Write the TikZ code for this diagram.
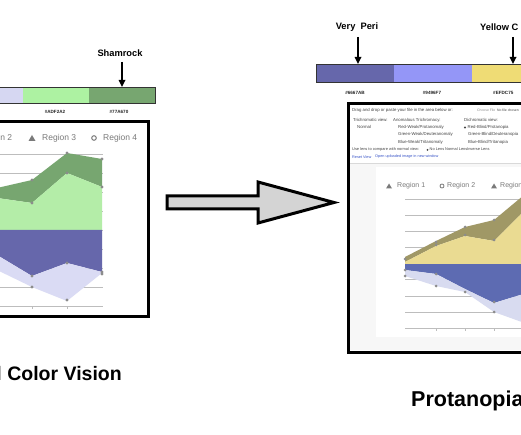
\documentclass[tikz,border=0pt]{standalone}
\usepackage{fontspec}
\setmainfont{Liberation Sans}
\usetikzlibrary{arrows.meta}
\definecolor{lavbar}{HTML}{D6D7F2}
\definecolor{ltgreen}{HTML}{ADF2A2}
\definecolor{shamrock}{HTML}{77A670}
\definecolor{veryperi}{HTML}{6667AB}
\definecolor{peri2}{HTML}{9496F7}
\definecolor{yellowc}{HTML}{EFDC75}
\definecolor{lavchart}{HTML}{DADBF4}
\definecolor{greenchart}{HTML}{B4EDA8}
\definecolor{olive}{HTML}{A09866}
\definecolor{yelchart}{HTML}{EADB92}
\definecolor{bluechart}{HTML}{5D6BB2}
\definecolor{lavchart2}{HTML}{D8DBF0}
\definecolor{gridc}{HTML}{BDBDBD}
\definecolor{uitext}{HTML}{444444}
\definecolor{uilink}{HTML}{3A55C8}
\definecolor{legc}{HTML}{7A7A7A}
\definecolor{arrowfill}{HTML}{D4D4D4}
\tikzset{
  namelbl/.style={font=\bfseries\fontsize{9.3}{10}\selectfont, inner sep=0pt},
  hexlbl/.style={font=\bfseries\fontsize{4.6}{5}\selectfont, inner sep=0pt, text=black!85},
  lblarrow/.style={-{Triangle[length=7pt,width=6.5pt]}, line width=1.6pt},
  barseg/.style={draw=black!80, line width=0.7pt},
  gridln/.style={draw=gridc, line width=0.8pt},
  panel/.style={draw=black, line width=3pt},
  legtxt/.style={font=\fontsize{8.5}{9}\selectfont, text=legc, inner sep=0pt, anchor=west},
  legtxtr/.style={font=\fontsize{7}{8}\selectfont, text=legc, inner sep=0pt, anchor=west},
  ui/.style={font=\fontsize{4.3}{5}\selectfont, text=uitext, inner sep=0pt, anchor=west},
  uis/.style={font=\fontsize{3.9}{4.5}\selectfont, text=uitext, inner sep=0pt, anchor=west},
  uilinkst/.style={font=\fontsize{3.8}{4.5}\selectfont, text=uilink, inner sep=0pt, anchor=west},
  mk/.style={fill=black!45},
  title/.style={font=\bfseries\fontsize{19.5}{21}\selectfont, inner sep=0pt, anchor=base west},
}
\begin{document}
\begin{tikzpicture}[x=1pt,y=-1pt]
\useasboundingbox (0,0) rectangle (521,435);
\clip (0,0) rectangle (521,435);
\fill[white] (0,0) rectangle (521,435);

% ---------------- LEFT: normal colour vision ----------------
% colour bar
\fill[lavbar] (-40,87) rectangle (23,103);
\fill[ltgreen] (23,87) rectangle (89,103);
\fill[shamrock] (89,87) rectangle (155,103);
\draw[barseg] (-40,87) rectangle (155,103);
\node[hexlbl] (hexA) at (55,112) {\#ADF2A2};
\node[hexlbl] (hexB) at (119,112) {\#77A670};
\node[namelbl] (shamrock) at (120,53) {Shamrock};
\coordinate (shamtip) at (122,87);
\draw[lblarrow] (122,62) -- (shamtip);

% panel
\node[legtxt] (lreg2) at (-22,138) {Region 2};
\fill[legc] (28.5,141) -- (32,135) -- (35.5,141) -- cycle;
\node[legtxt] (lreg3) at (42,138) {Region 3};
\draw[legc, line width=1pt] (94,138) circle (2.3);
\node[legtxt] (lreg4) at (103,138) {Region 4};

\foreach \yy in {154,173,192,211,230,249,268,287,306}
  \draw[gridln] (-5,\yy) -- (103,\yy);
\draw[gridln] (32,306) -- (32,309) (67,306) -- (67,309);

\fill[shamrock] (-38,195) -- (-3,188) -- (32,180) -- (67,153) -- (102,159)
   -- (102,187) -- (67,173) -- (32,203) -- (-3,198) -- (-38,205) -- cycle;
\fill[greenchart] (-38,205) -- (-3,198) -- (32,203) -- (67,173) -- (102,187)
   -- (102,230) -- (-38,230) -- cycle;
\fill[veryperi] (-38,230) -- (102,230) -- (102,272) -- (67,263) -- (32,276) -- (-3,255) -- (-38,250) -- cycle;
\fill[lavchart] (-38,250) -- (-3,255) -- (32,276) -- (67,263) -- (102,272)
   -- (102,273) -- (67,301) -- (32,287) -- (-3,270) -- (-38,265) -- cycle;
\foreach \p in {(32,180),(67,153),(102,159),(32,203),(67,173),(102,187),
                (32,276),(67,263),(102,272),(32,287),(67,300),(102,274)}
  \fill[mk] \p circle (1.6);

\draw[panel] (-20,122) rectangle (148,316);

\node[title] (normal) at (-65.5,380) {Normal Color Vision};

% ---------------- middle block arrow ----------------
\draw[line width=3pt, fill=arrowfill, line join=miter]
  (167,196) -- (258,196) -- (258,182) -- (334,202.5) -- (258,223) -- (258,209) -- (167,209) -- cycle;

% ---------------- RIGHT: protanopia ----------------
\fill[veryperi] (316,64) rectangle (394,82);
\fill[peri2] (394,64) rectangle (472,82);
\fill[yellowc] (472,64) rectangle (560,82);
\draw[barseg] (316,64) rectangle (560,82);
\node[hexlbl] (hexC) at (355,93) {\#6667AB};
\node[hexlbl] (hexD) at (432,93) {\#9496F7};
\node[hexlbl, anchor=west] (hexE) at (493,93) {\#EFDC75};
\node[namelbl] (veryperi) at (357,27) {Very\ \ Peri};
\coordinate (peritip) at (358,64);
\draw[lblarrow] (358,37) -- (peritip);
\node[namelbl, anchor=west] (yellow) at (480,27) {Yellow C};
\coordinate (yeltip) at (513,64);
\draw[lblarrow] (513,37) -- (yeltip);

% screenshot panel contents
\fill[black!3] (350,163) rectangle (540,350);
\fill[white] (376,167) rectangle (540,337);
\draw[black!15, line width=0.4pt] (350,163) -- (540,163);

\node[ui] (u1) at (352,110) {Drag and drop or paste your file in the area below or:};
\node[ui, text=black!45, font=\fontsize{3.4}{4}\selectfont] (u1b) at (477,110) {Choose File};
\node[ui, font=\fontsize{3.4}{4}\selectfont] (u1c) at (497,110) {No file chosen};
\node[ui] (u2a) at (353,120) {Trichromatic view:};
\node[ui] (u2b) at (393,120) {Anomalous Trichromacy:};
\node[ui] (u2c) at (464,120) {Dichromatic view:};
\node[ui] (u3a) at (357,127) {Normal};
\node[ui] (u3b) at (398,127) {Red-Weak/Protanomaly};
\fill[uitext] (465,127.5) circle (1.1);
\node[ui] (u3c) at (467.5,127) {Red-Blind/Protanopia};
\node[ui] (u4b) at (398,134.5) {Green-Weak/Deuteranomaly};
\node[ui] (u4c) at (468,134.5) {Green-Blind/Deuteranopia};
\node[ui] (u5b) at (398,142) {Blue-Weak/Tritanomaly};
\node[ui] (u5c) at (468,142) {Blue-Blind/Tritanopia};
\node[uis] (u6a) at (352,149.5) {Use lens to compare with normal view:};
\fill[uitext] (427.5,149.8) circle (1.0);
\node[uis] (u6b) at (429.5,149.5) {No Lens};
\node[uis] (u6c) at (445,149.5) {Normal Lens};
\node[uis] (u6d) at (467,149.5) {Inverse Lens};
\node[uilinkst] (u7a) at (352,157) {Reset View};
\node[uilinkst] (u7b) at (375,157) {Open uploaded image in new window};

% legend
\fill[legc] (386,188.5) -- (389,183.5) -- (392,188.5) -- cycle;
\node[legtxtr] (rreg1) at (397,186) {Region 1};
\draw[legc, line width=0.8pt] (442,186) circle (2);
\node[legtxtr] (rreg2) at (447,186) {Region 2};
\fill[legc] (491,188.5) -- (494,183.5) -- (497,188.5) -- cycle;
\node[legtxtr] (rreg3) at (500,186) {Region 3};

\foreach \yy in {199,215,231,247,263,279,296,312,328}
  \draw[gridln] (405,\yy) -- (540,\yy);
\draw[gridln] (436,328) -- (436,331) (465,328) -- (465,331) (494,328) -- (494,331);

\fill[olive] (405,257) -- (436,241) -- (465,227) -- (494,220) -- (530,190)
   -- (530,205) -- (494,241) -- (465,236) -- (436,246) -- (405,262) -- cycle;
\fill[yelchart] (405,262) -- (436,246) -- (465,236) -- (494,241) -- (530,205)
   -- (530,264) -- (405,264) -- cycle;
\fill[bluechart] (405,264) -- (530,264) -- (530,292) -- (494,303) -- (465,289) -- (436,274) -- (405,270) -- cycle;
\fill[lavchart2] (405,270) -- (436,274) -- (465,289) -- (494,303) -- (530,292)
   -- (530,325) -- (494,312) -- (465,292) -- (436,286) -- (405,276) -- cycle;
\foreach \p in {(405,259),(436,242),(465,227),(494,220),(436,245),(465,235),(494,240),
                (405,270),(405,276),(436,274),(436,286),(465,292),(494,302),(494,312)}
  \fill[mk] \p circle (1.5);

\draw[panel] (348,104) rectangle (545,352);

\node[title, font=\bfseries\fontsize{21.5}{23}\selectfont] (prot) at (411,406) {Protanopia};
\end{tikzpicture}
\end{document}
